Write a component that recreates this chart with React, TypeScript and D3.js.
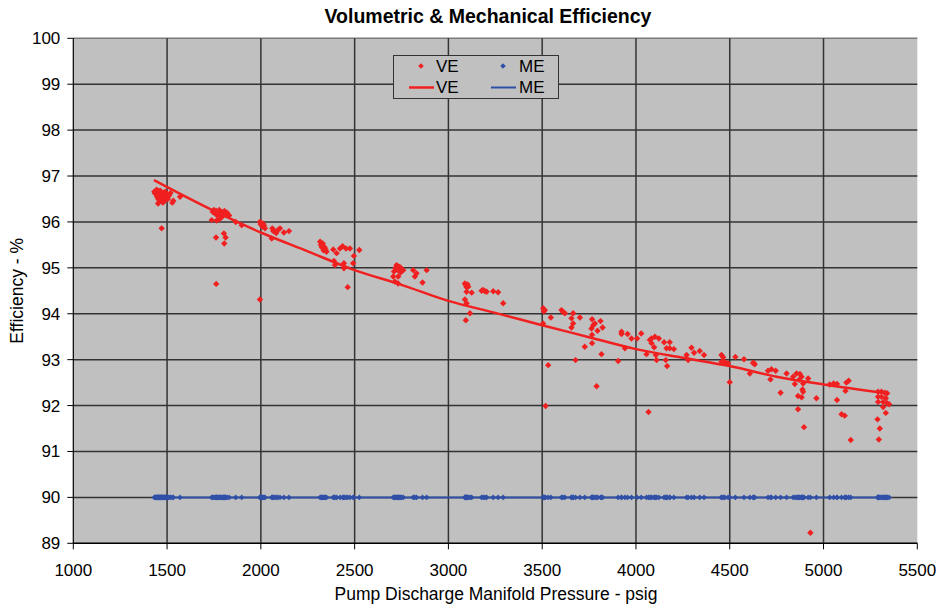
import React from "react";
import * as d3 from "d3";

const xTicks = [1000, 1500, 2000, 2500, 3000, 3500, 4000, 4500, 5000, 5500];
const yTicks = [89, 90, 91, 92, 93, 94, 95, 96, 97, 98, 99, 100];

// VE scatter points [pressure, efficiency]
const vePoints: [number, number][] = [
  [1432,96.66],[1436,96.62],[1440,96.68],[1444,96.60],[1447,96.55],[1450,96.64],[1453,96.50],[1455,96.67],[1458,96.58],[1460,96.45],[1462,96.62],[1465,96.53],[1468,96.66],[1470,96.48],[1472,96.60],[1475,96.56],[1478,96.42],[1480,96.63],[1483,96.52],[1486,96.59],[1489,96.47],[1492,96.62],[1495,96.55],[1500,96.60],[1504,96.50],[1510,96.57],[1518,96.63],[1528,96.42],[1533,96.46],[1569,96.55],[1471,95.86],[1445,96.70],[1452,96.40],[1463,96.68],[1490,96.66],
  [1743,96.22],[1750,96.26],[1756,96.18],[1762,96.24],[1768,96.14],[1773,96.22],[1778,96.26],[1784,96.18],[1790,96.22],[1795,96.12],[1800,96.20],[1806,96.24],[1812,96.16],[1820,96.20],[1738,96.04],[1764,96.03],[1780,96.06],[1803,95.75],[1761,95.66],[1812,95.66],[1805,95.53],[1762,94.65],[1831,96.14],[1866,96.0],[1898,95.93],
  [1995,96.00],[1999,95.95],[2003,95.98],[2008,95.90],[2012,95.96],[2017,95.92],[2022,95.86],[1995,94.31],[2061,95.86],[2058,95.64],[2066,95.80],[2075,95.79],[2082,95.76],[2090,95.82],[2102,95.86],[2123,95.77],[2150,95.80],
  [2316,95.57],[2320,95.50],[2325,95.45],[2330,95.53],[2335,95.38],[2340,95.45],[2345,95.40],[2350,95.35],[2386,95.40],[2404,95.32],[2422,95.42],[2436,95.47],[2454,95.42],[2475,95.42],[2525,95.39],[2496,95.26],[2492,95.10],[2443,95.10],[2443,94.99],[2390,95.15],[2395,95.06],[2463,94.58],
  [2706,94.81],[2710,94.92],[2715,94.70],[2718,95.00],[2724,95.06],[2728,94.96],[2732,94.81],[2732,94.66],[2736,95.02],[2741,95.02],[2745,94.90],[2750,94.98],[2759,94.95],[2812,94.95],[2821,94.81],[2830,94.88],[2862,94.68],[2884,94.95],
  [3088,94.66],[3093,94.62],[3097,94.58],[3102,94.64],[3106,94.59],[3097,94.48],[3088,94.31],[3097,94.23],[3115,94.01],[3093,93.86],[3124,94.46],[3177,94.50],[3185,94.52],[3195,94.49],[3204,94.48],[3239,94.49],[3265,94.47],[3292,94.23],
  [3505,94.12],[3509,94.05],[3514,94.08],[3505,93.79],[3546,93.92],[3532,92.88],[3518,91.99],[3603,94.08],[3610,94.04],[3621,94.01],[3665,94.01],[3656,93.90],[3665,93.79],[3656,93.70],[3701,93.92],[3678,92.99],[3727,93.28],[3766,93.88],[3772,93.75],[3781,93.79],[3763,93.68],[3795,93.63],[3822,93.70],[3811,93.84],[3766,93.54],[3766,93.36],[3816,93.12],[3790,92.42],
  [3923,93.61],[3923,93.56],[3955,93.56],[3976,93.46],[4006,93.46],[4028,93.57],[3941,93.25],[3905,92.97],[4056,93.12],[4074,93.43],[4083,93.46],[4101,93.50],[4122,93.46],[4083,93.36],[4097,93.27],[4106,93.10],[4110,92.99],[4150,93.38],[4180,93.38],[4163,93.25],[4180,93.25],[4202,93.23],[4159,92.99],[4166,92.86],[4067,91.86],[4270,93.10],[4296,93.26],[4310,93.15],[4340,93.19],[4363,93.10],[4278,92.99],
  [4456,93.10],[4465,93.05],[4474,92.95],[4491,92.92],[4456,92.95],[4500,92.51],[4530,93.06],[4576,93.01],[4624,92.93],[4633,92.90],[4607,92.70],[4628,92.93],[4704,92.76],[4722,92.79],[4745,92.76],[4717,92.57],[4771,92.28],[4803,92.70],[4838,92.63],[4856,92.70],[4874,92.69],[4883,92.63],[4847,92.47],[4870,92.56],[4891,92.48],[4888,92.35],[4891,92.30],[4864,92.21],[4883,92.18],[4864,91.92],[4896,91.53],[4918,92.59],[4962,92.16],[4930,89.23],[5033,92.46],[5054,92.48],[5072,92.47],[5072,92.12],[5096,91.81],[5113,91.78],[5122,92.50],[5134,92.54],[5117,92.32],[5145,91.25],
  [5291,92.30],[5309,92.30],[5327,92.28],[5339,92.27],[5291,92.19],[5309,92.19],[5332,92.16],[5291,92.08],[5318,92.08],[5339,92.05],[5350,92.03],[5318,91.97],[5332,91.84],[5288,91.70],[5300,91.50],[5295,91.26]
];

// ME is constant 90 at the same pressures
const meValue = 90;

// VE trend line
const trendX = [1430, 1750, 2000, 2250, 2500, 2750, 3000, 3250, 3500, 3750, 4000, 4250, 4500, 4750, 5000, 5340];
const trendY = [96.91, 96.24, 95.77, 95.36, 94.95, 94.63, 94.28, 94.02, 93.75, 93.49, 93.23, 93.04, 92.86, 92.63, 92.46, 92.27];

const W = 940, H = 607;
const M = { left: 73.3, right: 917.3, top: 38.3, bottom: 543.3 };
const FONT = "'Liberation Sans', Arial, sans-serif";
const RED = "#F02020";
const BLUE = "#3050A8";

export default function App() {
  const x = d3.scaleLinear().domain([1000, 5500]).range([M.left, M.right]);
  const y = d3.scaleLinear().domain([89, 100]).range([M.bottom, M.top]);
  const trendLine = d3.line<number>().x((_, i) => x(trendX[i])).y((d) => y(d)).curve(d3.curveMonotoneX);
  const meX = vePoints.map((p) => p[0]);
  const meMin = d3.min(meX) as number;
  const meMax = d3.max(meX) as number;
  const diamond = (cx: number, cy: number, r: number) =>
    `M${cx},${cy - r}L${cx + r},${cy}L${cx},${cy + r}L${cx - r},${cy}Z`;

  return (
    <svg width={W} height={H} style={{ position: "absolute", left: 0, top: 0, fontFamily: FONT }}>
      <rect x={0} y={0} width={W} height={H} fill="#fff" />
      <rect x={M.left} y={M.top} width={M.right - M.left} height={M.bottom - M.top} fill="#C0C0C0" />
      {yTicks.map((t) => (
        <line key={"gy" + t} x1={M.left} x2={M.right} y1={y(t)} y2={y(t)} stroke={t === 100 ? "#7a7a7a" : "#333"} strokeWidth={1.5} />
      ))}
      {xTicks.filter((t) => t > 1000 && t < 5500).map((t) => (
        <line key={"gx" + t} x1={x(t)} x2={x(t)} y1={M.top} y2={M.bottom} stroke="#333" strokeWidth={1.5} />
      ))}
      {/* axes */}
      <line x1={M.left} x2={M.left} y1={M.top} y2={M.bottom} stroke="#000" strokeWidth={1.2} />
      <line x1={M.left} x2={M.right} y1={M.bottom} y2={M.bottom} stroke="#000" strokeWidth={1.2} />
      {yTicks.map((t) => (
        <g key={"ty" + t}>
          <line x1={M.left - 6} x2={M.left} y1={y(t)} y2={y(t)} stroke="#000" />
          <text x={M.left - 13} y={y(t) + 6} fontSize={17} textAnchor="end" fill="#000">{t}</text>
        </g>
      ))}
      {xTicks.map((t) => (
        <g key={"tx" + t}>
          <line x1={x(t)} x2={x(t)} y1={M.bottom} y2={M.bottom + 6} stroke="#000" />
          <text x={x(t)} y={M.bottom + 33} fontSize={17} textAnchor="middle" fill="#000">{t}</text>
        </g>
      ))}
      {/* ME */}
      <line x1={x(meMin)} x2={x(meMax)} y1={y(meValue)} y2={y(meValue)} stroke={BLUE} strokeWidth={2} />
      {meX.map((v, i) => (
        <path key={"me" + i} d={diamond(x(v), y(meValue), 2.8)} fill={BLUE} />
      ))}
      {/* VE */}
      {vePoints.map((p, i) => (
        <path key={"ve" + i} d={diamond(x(p[0]), y(p[1]), 3.2)} fill={RED} />
      ))}
      <path d={trendLine(trendY) || ""} fill="none" stroke={RED} strokeWidth={2.5} />
      {/* legend */}
      <g>
        <rect x={393.5} y={55.5} width={165} height={43} fill="#C0C0C0" stroke="#333" strokeWidth={1} />
        <path d={diamond(421, 66, 2.8)} fill={RED} />
        <text x={436} y={72} fontSize={17}>VE</text>
        <path d={diamond(503, 66, 2.8)} fill={BLUE} />
        <text x={519} y={72} fontSize={17}>ME</text>
        <line x1={409} x2={434} y1={87.5} y2={87.5} stroke={RED} strokeWidth={2.5} />
        <text x={436} y={93} fontSize={17}>VE</text>
        <line x1={491} x2={516} y1={87.5} y2={87.5} stroke={BLUE} strokeWidth={2} />
        <text x={519} y={93} fontSize={17}>ME</text>
      </g>
      <text x={488} y={23} fontSize={19.5} fontWeight="bold" textAnchor="middle">Volumetric &amp; Mechanical Efficiency</text>
      <text x={496} y={600} fontSize={17.5} textAnchor="middle">Pump Discharge Manifold Pressure - psig</text>
      <text transform={`translate(23,${(M.top + M.bottom) / 2}) rotate(-90)`} fontSize={17.5} textAnchor="middle">Efficiency - %</text>
    </svg>
  );
}
